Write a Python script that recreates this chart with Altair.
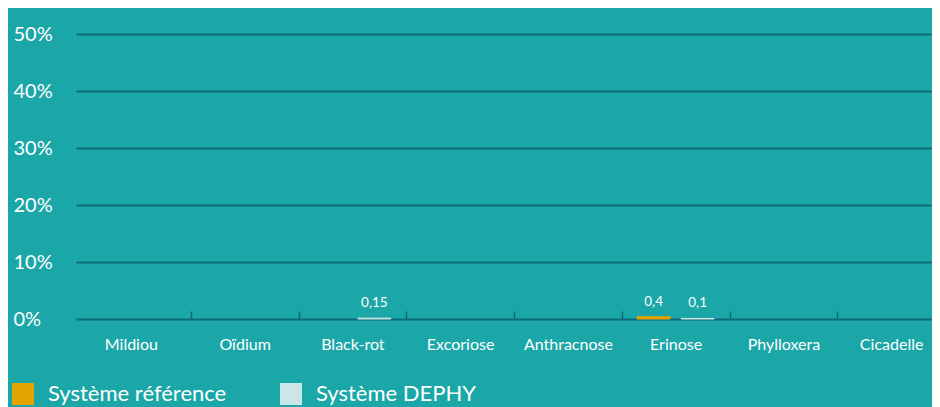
import altair as alt
import pandas as pd

categories = ["Mildiou", "Oïdium", "Black-rot", "Excoriose", "Anthracnose", "Erinose", "Phylloxera", "Cicadelle"]
series = ["Système référence", "Système DEPHY"]
ref_values = [0, 0, 0, 0, 0, 0.4, 0, 0]
dephy_values = [0, 0, 0.15, 0, 0, 0.1, 0, 0]
colors = ["#e2a300", "#cbe6e9"]

rows = []
for c, r, d in zip(categories, ref_values, dephy_values):
    rows.append({"cat": c, "serie": series[0], "value": r, "label": str(r).replace(".", ",")})
    rows.append({"cat": c, "serie": series[1], "value": d, "label": str(d).replace(".", ",")})
df = pd.DataFrame(rows)

FONT = "Lato"
BG = "#1ba6a7"
GRID = "#0c6a76"

x_scale = alt.Scale(domain=categories, range=[0, 869], paddingInner=0, paddingOuter=0.0325, align=1)
off_scale = alt.Scale(domain=series, paddingInner=0.25, paddingOuter=0.349)

x_enc = alt.X(
    "cat:N",
    sort=categories,
    scale=x_scale,
    axis=alt.Axis(
        title=None,
        domain=False,
        grid=False,
        ticks=True,
        tickSize=8,
        tickWidth=1.5,
        tickColor=GRID,
        tickBand="extent",
        tickOpacity={"condition": {"test": "datum.extra", "value": 0}, "value": 1},
        offset=-8,
        labelPadding=17,
        labelOffset={"condition": {"test": "datum.value === 'Mildiou'", "value": -6}, "value": 0},
        labelColor="white",
        labelFont=FONT,
        labelFontSize=16,
        labelAngle=0,
    ),
)
xoff = alt.XOffset("serie:N", sort=series, scale=off_scale)
color_enc = alt.Color(
    "serie:N",
    scale=alt.Scale(domain=series, range=colors),
    legend=alt.Legend(
        title=None,
        orient="none",
        legendX=-64,
        legendY=349,
        direction="horizontal",
        symbolType="square",
        symbolSize=484,
        symbolStrokeWidth=0,
        symbolOpacity=1,
        labelColor="white",
        labelFont=FONT,
        labelFontSize=22,
        labelOffset=14,
        columnPadding=53,
        labelLimit=300,
    ),
)

y_enc = alt.Y(
    "value:Q",
    scale=alt.Scale(domain=[0, 50], nice=False),
    axis=alt.Axis(
        title=None,
        values=[0, 10, 20, 30, 40, 50],
        labelExpr="datum.value + '%'",
        domain=False,
        ticks=False,
        grid=True,
        gridColor=GRID,
        gridWidth=2,
        labelAlign="left",
        labelPadding=63,
        labelColor="white",
        labelFont=FONT,
        labelFontSize=20,
    ),
)

base = alt.Chart(df).transform_filter("datum.value > 0")

bars = base.mark_bar(strokeWidth=1).encode(
    x=x_enc,
    xOffset=xoff,
    y=y_enc,
    color=color_enc,
    stroke=alt.Stroke("serie:N", scale=alt.Scale(domain=series, range=colors), legend=None),
)

texts = base.mark_text(dy=-11, baseline="alphabetic", color="white", font=FONT, fontSize=13.5).encode(
    x=alt.X("cat:N", sort=categories),
    xOffset=alt.XOffset("serie:N", sort=series),
    y=alt.Y("value:Q"),
    text="label:N",
)

chart = (
    alt.layer(bars, texts)
    .properties(
        width=856,
        height=285,
        background=BG,
        padding={"left": 68, "top": 26, "right": 0, "bottom": 88},
        autosize=alt.AutoSizeParams(type="none"),
    )
    .configure_view(stroke=None)
)

chart.save("out.html", embed_options={"renderer": "svg", "actions": False})
